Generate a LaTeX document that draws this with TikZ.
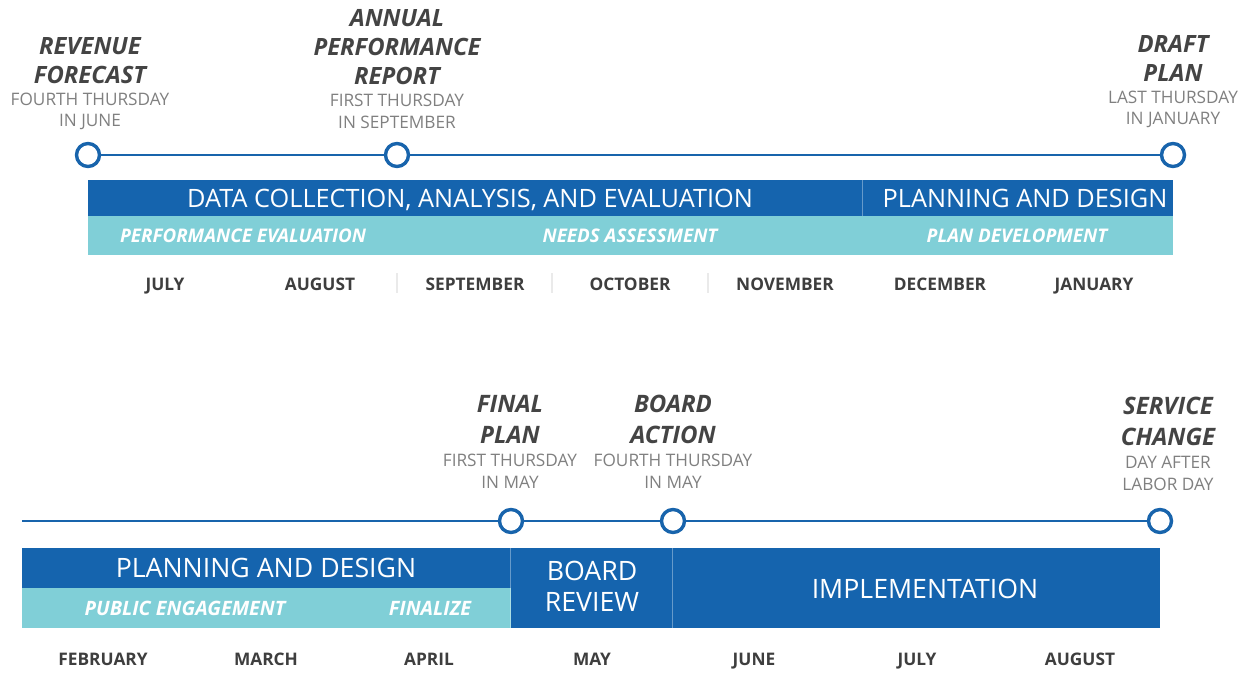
\documentclass[tikz,border=0pt]{standalone}
\usepackage{fontspec}
\setmainfont{Open Sans}
\definecolor{tlblue}{RGB}{24,100,172}
\definecolor{bardark}{RGB}{21,100,174}
\definecolor{barlight}{RGB}{128,207,215}
\definecolor{titlegray}{RGB}{68,68,68}
\definecolor{subgray}{RGB}{128,128,128}
\definecolor{monthgray}{RGB}{62,62,62}
\definecolor{sepgray}{RGB}{234,234,234}
\begin{document}
\begin{tikzpicture}[x=1pt,y=-1pt,
  milestone/.style={circle,draw=tlblue,line width=3.4pt,fill=white,minimum size=23pt,inner sep=0pt},
  tline/.style={draw=tlblue,line width=2.8pt},
  mtitle/.style={anchor=base,text=titlegray,inner sep=0pt,font=\fontsize{23.8}{29}\selectfont\bfseries\itshape},
  mtitleb/.style={anchor=base,text=titlegray,inner sep=0pt,font=\fontsize{24}{31}\selectfont\bfseries\itshape},
  msub/.style={anchor=base,text=subgray,inner sep=0pt,font=\fontsize{17.2}{21}\selectfont},
  month/.style={anchor=base,text=monthgray,inner sep=0pt,font=\fontsize{17.3}{20}\selectfont\bfseries},
  darkbar/.style={fill=bardark,draw=none,inner sep=0pt,text=white},
  lightbar/.style={fill=barlight,draw=none,inner sep=0pt},
  bartext/.style={anchor=base,text=white,inner sep=0pt,font=\fontsize{25.3}{31}\selectfont},
  bartextb/.style={anchor=base,text=white,inner sep=0pt,font=\fontsize{26.7}{31}\selectfont},
  subtext/.style={anchor=base,text=white,inner sep=0pt,font=\fontsize{18.8}{22}\selectfont\bfseries\itshape},
  subtextb/.style={anchor=base,text=white,inner sep=0pt,font=\fontsize{19.8}{22}\selectfont\bfseries\itshape},
  divider/.style={draw=white,draw opacity=0.35,line width=1pt},
  monthsep/.style={draw=sepgray,line width=1.2pt}
]
\useasboundingbox[fill=white] (0,0) rectangle (1246,672);

% ---------------- TOP ROW ----------------
\node[darkbar,minimum width=774pt,minimum height=36pt] (dcbar) at (475,198) {};
\node[darkbar,minimum width=311pt,minimum height=36pt] (pdbar) at (1017.5,198) {};
\node[lightbar,minimum width=1085pt,minimum height=39pt] (lbar1) at (630.5,235.5) {};
\draw[divider] (dcbar.north east) -- (dcbar.south east);

\node[bartext] (dctext) at (470,207) {DATA COLLECTION, ANALYSIS, AND EVALUATION};
\node[bartext] (pdtext) at (1025,207) {PLANNING AND DESIGN};
\node[subtext] (pe) at (243,242.7) {PERFORMANCE EVALUATION};
\node[subtext] (na) at (630,242.7) {NEEDS ASSESSMENT};
\node[subtext] (pdev) at (1017,242.7) {PLAN DEVELOPMENT};

\node[month] (m1) at (165,290.2) {JULY};
\node[month] (m2) at (320,290.2) {AUGUST};
\node[month] (m3) at (475,290.2) {SEPTEMBER};
\node[month] (m4) at (630,290.2) {OCTOBER};
\node[month] (m5) at (785,290.2) {NOVEMBER};
\node[month] (m6) at (940,290.2) {DECEMBER};
\node[month] (m7) at (1094,290.2) {JANUARY};
\draw[monthsep] (397,273) -- (397,293);
\draw[monthsep] (552,273) -- (552,293);
\draw[monthsep] (708,273) -- (708,293);

\node[milestone] (rf) at (88,155) {};
\node[milestone] (apr) at (397,155) {};
\node[milestone] (dp) at (1173,155) {};
\draw[tline] (rf) -- (apr);
\draw[tline] (apr) -- (dp);

\node[mtitle] (rft1) at (90,54.5) {REVENUE};
\node[mtitle] (rft2) at (90,83.5) {FORECAST};
\node[msub] (rfs1) at (90,105.2) {FOURTH THURSDAY};
\node[msub] (rfs2) at (90,126.2) {IN JUNE};

\node[mtitle] (apt1) at (397,26.3) {ANNUAL};
\node[mtitle] (apt2) at (397,55.3) {PERFORMANCE};
\node[mtitle] (apt3) at (397,84.5) {REPORT};
\node[msub] (aps1) at (397,106.2) {FIRST THURSDAY};
\node[msub] (aps2) at (397,128.2) {IN SEPTEMBER};

\node[mtitle] (dpt1) at (1173,52.5) {DRAFT};
\node[mtitle] (dpt2) at (1173,81.5) {PLAN};
\node[msub] (dps1) at (1173,103.2) {LAST THURSDAY};
\node[msub] (dps2) at (1173,124.2) {IN JANUARY};

% ---------------- BOTTOM ROW ----------------
\node[darkbar,minimum width=489pt,minimum height=40pt] (pdbar2) at (266.5,568) {};
\node[lightbar,minimum width=489pt,minimum height=40pt] (lbar2) at (266.5,608) {};
\node[darkbar,minimum width=162pt,minimum height=80pt] (brbar) at (592,588) {};
\node[darkbar,minimum width=487pt,minimum height=80pt] (imbar) at (916.5,588) {};
\draw[divider] (brbar.north west) -- (brbar.south west);
\draw[divider] (imbar.north west) -- (imbar.south west);

\node[bartextb] (pdtext2) at (266,577.5) {PLANNING AND DESIGN};
\node[subtextb] (pub) at (185,615.1) {PUBLIC ENGAGEMENT};
\node[subtextb] (fin) at (430,615.1) {FINALIZE};
\node[bartextb] (br1) at (592,580.5) {BOARD};
\node[bartextb] (br2) at (592,611.5) {REVIEW};
\node[bartextb] (imp) at (925,598.5) {IMPLEMENTATION};

\node[month] (n1) at (103,665.2) {FEBRUARY};
\node[month] (n2) at (266,665.2) {MARCH};
\node[month] (n3) at (429,665.2) {APRIL};
\node[month] (n4) at (592,665.2) {MAY};
\node[month] (n5) at (754,665.2) {JUNE};
\node[month] (n6) at (917,665.2) {JULY};
\node[month] (n7) at (1080,665.2) {AUGUST};

\coordinate (tlstart) at (22,521);
\node[milestone] (fp) at (511,521) {};
\node[milestone] (ba) at (673,521) {};
\node[milestone] (sc) at (1160,521) {};
\draw[tline] (tlstart) -- (fp);
\draw[tline] (fp) -- (ba);
\draw[tline] (ba) -- (sc);

\node[mtitleb] (fpt1) at (510,412.6) {FINAL};
\node[mtitleb] (fpt2) at (510,443.6) {PLAN};
\node[msub] (fps1) at (510,466.2) {FIRST THURSDAY};
\node[msub] (fps2) at (510,488.2) {IN MAY};

\node[mtitleb] (bat1) at (673,412.6) {BOARD};
\node[mtitleb] (bat2) at (673,443.6) {ACTION};
\node[msub] (bas1) at (673,466.2) {FOURTH THURSDAY};
\node[msub] (bas2) at (673,488.2) {IN MAY};

\node[mtitleb] (sct1) at (1168,414.6) {SERVICE};
\node[mtitleb] (sct2) at (1168,445.6) {CHANGE};
\node[msub] (scs1) at (1168,468.2) {DAY AFTER};
\node[msub] (scs2) at (1168,490.2) {LABOR DAY};
\end{tikzpicture}
\end{document}
